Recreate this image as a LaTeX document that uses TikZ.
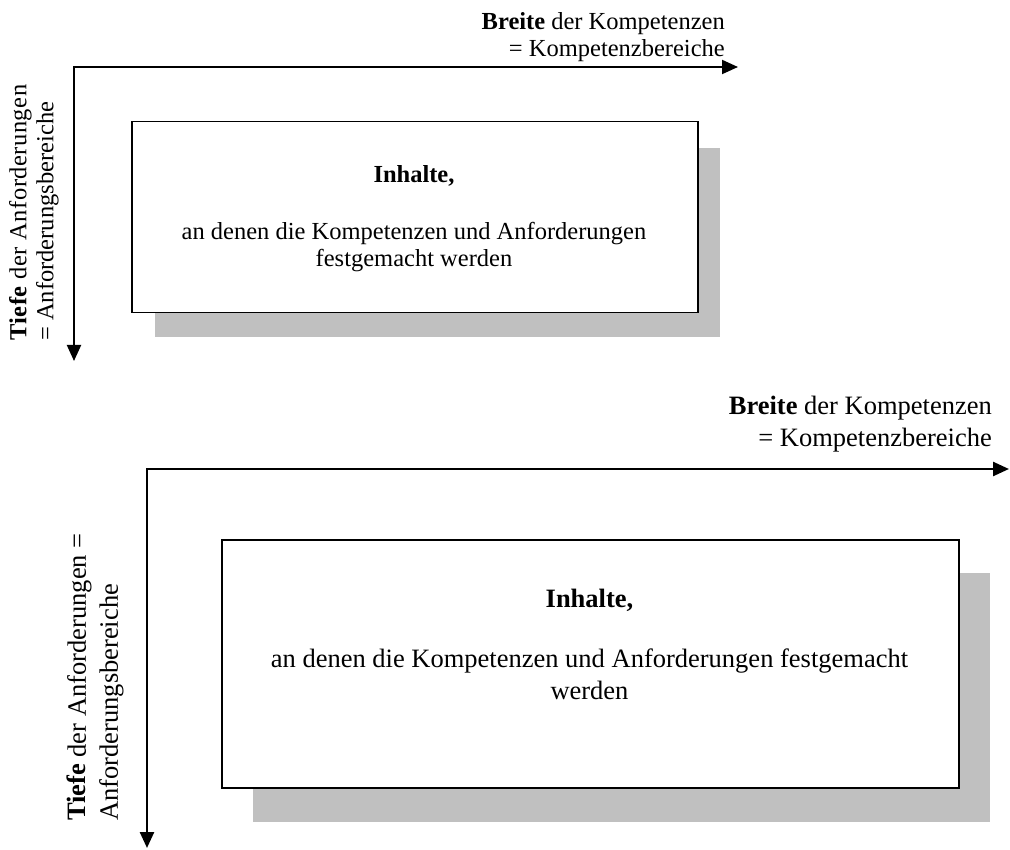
\documentclass[tikz,border=0pt]{standalone}
\usepackage{fontspec}
\setmainfont{Liberation Serif}
\usetikzlibrary{arrows.meta}
\definecolor{shadowgray}{RGB}{192,192,192}
\begin{document}
\begin{tikzpicture}[x=1pt,y=-1pt,
  axes/.style={line width=#1, {Triangle[length=16pt,width=14pt]}-{Triangle[length=16pt,width=14pt]}},
  axes/.default=2pt,
  shadowbox/.style={fill=shadowgray},
  contentbox/.style={draw=black, fill=white, line width=#1, inner sep=0pt},
  contentbox/.default=1.5pt,
  smalltxt/.style={font=\fontsize{24.5}{27}\selectfont, inner sep=0pt},
  bigtxt/.style={font=\fontsize{26.5}{32}\selectfont, inner sep=0pt}]
\useasboundingbox (0,0) rectangle (1010,850);

% ---------- top diagram ----------
\coordinate (o1) at (74,67);
\coordinate (x1) at (738,67);
\coordinate (y1) at (74,361);
\draw[axes] (x1) -- (o1) -- (y1);
\fill[shadowbox] (155,148) rectangle (720,337);
\node[contentbox, minimum width=566pt, minimum height=191pt, anchor=north west] (b1) at (131,121) {};
\node[smalltxt, align=center, anchor=north] (t1) at (414,165)
  {\textbf{Inhalte,}\\[30pt]an denen die Kompetenzen und Anforderungen\\festgemacht werden};
\node[smalltxt, align=right, anchor=north east] (h1) at (725,12)
  {\textbf{Breite} der Kompetenzen\\= Kompetenzbereiche};
\node[smalltxt, align=left, rotate=90, anchor=north west] (v1) at (9,341)
  {\addfontfeature{LetterSpace=2}\textbf{Tiefe} der Anforderungen\\= Anforderungsbereiche};

% ---------- bottom diagram ----------
\coordinate (o2) at (147,469);
\coordinate (x2) at (1009,469);
\coordinate (y2) at (147,848);
\draw[axes=2.5pt] (x2) -- (o2) -- (y2);
\fill[shadowbox] (253,573) rectangle (990,822);
\node[contentbox=2pt, minimum width=737pt, minimum height=248pt, anchor=north west] (b2) at (221,539) {};
\node[bigtxt, align=center, anchor=north] (t2) at (589.5,589)
  {\textbf{Inhalte,}\\[28pt]an denen die Kompetenzen und Anforderungen festgemacht\\werden};
\node[bigtxt, align=right, anchor=north east] (h2) at (992,396)
  {\textbf{Breite} der Kompetenzen\\= Kompetenzbereiche};
\node[bigtxt, align=left, rotate=90, anchor=north west] (v2) at (67,821)
  {\textbf{Tiefe} der Anforderungen =\\Anforderungsbereiche};
\end{tikzpicture}
\end{document}
